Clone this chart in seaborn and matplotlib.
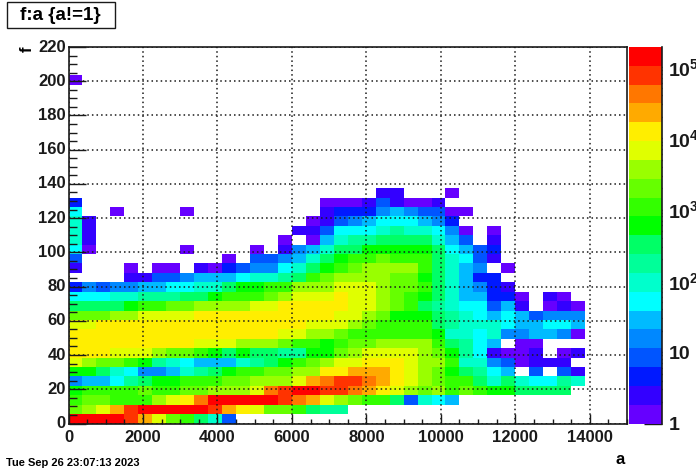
import matplotlib
matplotlib.use("Agg")
import matplotlib.pyplot as plt
import numpy as np
import seaborn as sns
from matplotlib.colors import ListedColormap, LogNorm
from matplotlib.patches import Rectangle

# estimated bin contents, one list per f bin (lowest first), 0 = empty
row_00 = [140000, 140000, 140000, 140000, 77000, 23000, 6700, 2000, 1100, 320, 95, 8]
row_01 = [2000, 3700, 6700, 23000, 77000, 140000, 140000, 140000, 140000, 140000, 77000, 23000, 12000, 6700, 2000, 2000, 1100, 320, 175, 175]
row_02 = [1100, 2000, 2000, 1100, 1100, 1100, 3700, 6700, 12000, 42000, 140000, 140000, 140000, 140000, 140000, 77000, 42000, 23000, 6700, 3700, 2000, 1100, 1100, 320, 8, 95, 52, 28]
row_03 = [590, 1100, 1100, 1100, 1100, 2000, 1100, 1100, 2000, 2000, 3700, 3700, 3700, 6700, 42000, 77000, 140000, 140000, 77000, 77000, 42000, 23000, 12000, 6700, 3700, 2000, 3700, 1100, 2000, 1100, 590, 590, 320, 320, 320, 320]
row_04 = [15, 28, 28, 52, 175, 320, 590, 590, 1100, 1100, 1100, 2000, 2000, 3700, 3700, 3700, 6700, 23000, 42000, 77000, 77000, 42000, 23000, 12000, 6700, 3700, 2000, 1100, 1100, 320, 95, 320, 95, 52, 52, 175, 95]
row_05 = [590, 590, 320, 95, 52, 15, 15, 28, 95, 175, 320, 590, 1100, 1100, 2000, 2000, 3700, 3700, 12000, 12000, 23000, 23000, 23000, 12000, 6700, 3700, 2000, 590, 320, 175, 52, 28, 0, 8, 0, 8, 2]
row_06 = [6700, 3700, 2000, 2000, 1100, 590, 175, 95, 52, 28, 28, 28, 95, 175, 320, 590, 1100, 2000, 3700, 6700, 6700, 12000, 12000, 12000, 6700, 3700, 3700, 1100, 95, 95, 15, 8, 1, 2, 2, 2]
row_07 = [12000, 12000, 12000, 6700, 6700, 6700, 3700, 2000, 2000, 1100, 590, 320, 590, 320, 320, 175, 175, 590, 590, 2000, 3700, 6700, 6700, 6700, 6700, 3700, 2000, 590, 175, 52, 2, 1, 1, 2, 0, 1, 2]
row_08 = [12000, 12000, 12000, 12000, 12000, 12000, 12000, 12000, 12000, 6700, 6700, 6700, 3700, 3700, 3700, 2000, 1100, 1100, 590, 1100, 2000, 2000, 3700, 3700, 3700, 3700, 1100, 320, 175, 52, 28, 0, 1, 1]
row_09 = [12000, 12000, 12000, 12000, 12000, 12000, 12000, 12000, 12000, 12000, 12000, 12000, 12000, 12000, 12000, 6700, 6700, 3700, 3700, 2000, 1100, 1100, 1100, 1100, 1100, 1100, 590, 95, 95, 52, 95, 15, 15, 28, 28, 15, 1]
row_10 = [6700, 6700, 12000, 12000, 12000, 12000, 12000, 12000, 12000, 12000, 12000, 12000, 12000, 12000, 12000, 12000, 12000, 6700, 6700, 6700, 3700, 2000, 1100, 1100, 1100, 1100, 320, 175, 95, 95, 95, 52, 28, 28, 52, 52, 28]
row_11 = [2000, 2000, 2000, 3700, 3700, 6700, 6700, 6700, 6700, 12000, 12000, 12000, 12000, 12000, 12000, 12000, 12000, 12000, 12000, 6700, 6700, 3700, 2000, 590, 590, 590, 320, 175, 95, 52, 28, 52, 28, 8, 15, 15, 15]
row_12 = [320, 320, 320, 320, 590, 1100, 1100, 2000, 2000, 3700, 3700, 3700, 3700, 6700, 6700, 12000, 12000, 12000, 12000, 12000, 6700, 6700, 3700, 2000, 1100, 320, 175, 95, 52, 52, 8, 28, 2, 0, 1, 2, 1]
row_13 = [52, 52, 52, 95, 95, 175, 175, 175, 320, 320, 590, 1100, 1100, 1100, 2000, 3700, 6700, 6700, 6700, 12000, 6700, 6700, 3700, 2000, 1100, 590, 320, 95, 28, 28, 5, 5, 1, 0, 2, 1]
row_14 = [5, 15, 8, 15, 15, 28, 28, 52, 52, 95, 95, 320, 590, 590, 1100, 1100, 3700, 3700, 3700, 6700, 6700, 6700, 3700, 2000, 2000, 1100, 320, 95, 28, 15, 5, 2]
row_15 = [0, 0, 0, 0, 2, 2, 8, 8, 15, 28, 28, 28, 52, 95, 95, 175, 320, 1100, 2000, 3700, 3700, 3700, 3700, 2000, 2000, 590, 320, 95, 28, 5, 5]
row_16 = [2, 0, 0, 0, 1, 0, 1, 1, 0, 2, 1, 5, 8, 15, 15, 52, 95, 320, 590, 1100, 2000, 3700, 3700, 3700, 3700, 1100, 320, 95, 28, 15, 0, 1]
row_17 = [8, 0, 0, 0, 0, 0, 0, 0, 0, 0, 0, 1, 0, 8, 8, 15, 28, 95, 320, 590, 1100, 1100, 2000, 1100, 1100, 1100, 320, 95, 52, 8, 2]
row_18 = [52, 1, 0, 0, 0, 0, 0, 0, 1, 0, 0, 0, 0, 1, 0, 2, 15, 28, 95, 320, 320, 590, 590, 590, 590, 590, 320, 52, 28, 8, 5]
row_19 = [95, 2, 0, 0, 0, 0, 0, 0, 0, 0, 0, 0, 0, 0, 0, 1, 0, 1, 28, 95, 175, 175, 320, 320, 320, 320, 95, 28, 8, 0, 2]
row_20 = [95, 2, 0, 0, 0, 0, 0, 0, 0, 0, 0, 0, 0, 0, 0, 0, 2, 2, 8, 52, 52, 52, 95, 175, 95, 95, 52, 15, 1, 0, 1]
row_21 = [95, 2, 0, 0, 0, 0, 0, 0, 0, 0, 0, 0, 0, 0, 0, 0, 0, 1, 2, 8, 15, 28, 52, 52, 52, 28, 15, 5]
row_22 = [52, 0, 0, 1, 0, 0, 0, 0, 1, 0, 0, 0, 0, 0, 0, 0, 0, 0, 2, 5, 5, 5, 15, 28, 15, 8, 8, 1, 1]
row_23 = [5, 0, 0, 0, 0, 0, 0, 0, 0, 0, 0, 0, 0, 0, 0, 0, 0, 0, 1, 1, 1, 2, 8, 2, 1, 1, 2]
row_24 = [0, 0, 0, 0, 0, 0, 0, 0, 0, 0, 0, 0, 0, 0, 0, 0, 0, 0, 0, 0, 0, 0, 2, 2, 0, 0, 0, 1]
row_36 = [1]

rows = {0: row_00, 1: row_01, 2: row_02, 3: row_03, 4: row_04, 5: row_05, 6: row_06,
        7: row_07, 8: row_08, 9: row_09, 10: row_10, 11: row_11, 12: row_12, 13: row_13,
        14: row_14, 15: row_15, 16: row_16, 17: row_17, 18: row_18, 19: row_19, 20: row_20,
        21: row_21, 22: row_22, 23: row_23, 24: row_24, 36: row_36}

n_bins = 40
x_max = 15000
y_max = 220
z_max = 190500

x_ticks = [0, 2000, 4000, 6000, 8000, 10000, 12000, 14000]
y_ticks = [0, 20, 40, 60, 80, 100, 120, 140, 160, 180, 200, 220]
bar_ticks = [1, 10, 100, 1000, 10000, 100000]
bar_labels = ["1", "10", r"$\mathbf{10^{2}}$", r"$\mathbf{10^{3}}$", r"$\mathbf{10^{4}}$", r"$\mathbf{10^{5}}$"]
palette = ["#6600FF", "#3300FF", "#0019FF", "#0055FF", "#0088FF", "#00BBFF", "#00FFFF",
           "#00FFCC", "#00FF99", "#00FF66", "#00FF00", "#33FF00", "#66FF00", "#99FF00",
           "#E0FF00", "#FFEE00", "#FFAA00", "#FF7700", "#FF3300", "#FF0000"]

sns.set_theme(style="white")
plt.rcParams["font.family"] = ["Liberation Sans", "DejaVu Sans"]
plt.rcParams["font.weight"] = "bold"
plt.rcParams["mathtext.fontset"] = "custom"
plt.rcParams["mathtext.bf"] = "Liberation Sans:bold"
plt.rcParams["text.color"] = "black"

grid = np.zeros((n_bins, n_bins))
for r, row in rows.items():
    grid[r, : len(row)] = row

W, H = 696, 472
fig = plt.figure(figsize=(W / 100, H / 100), dpi=100)
ax = fig.add_axes([68.5 / W, 1 - 423.5 / H, 558.5 / W, 376.5 / H])
cax = fig.add_axes([629 / W, 1 - 423.5 / H, 32.5 / W, 376.5 / H])

sns.heatmap(
    grid,
    mask=grid == 0,
    cmap=ListedColormap(palette),
    norm=LogNorm(vmin=1, vmax=z_max),
    ax=ax,
    cbar_ax=cax,
    square=False,
)
ax.invert_yaxis()
ax.set_facecolor("white")

x_scale = n_bins / x_max
y_scale = n_bins / y_max
ax.set_xticks([v * x_scale for v in x_ticks], labels=[str(v) for v in x_ticks], rotation=0)
ax.set_yticks([v * y_scale for v in y_ticks], labels=[str(v) for v in y_ticks], rotation=0)
ax.set_xticks(np.arange(0, x_max + 1, 500) * x_scale, minor=True)
ax.set_yticks(np.arange(0, y_max + 1, 5) * y_scale, minor=True)
ax.tick_params(axis="x", which="major", direction="in", length=7, width=1, color="k", labelsize=12, pad=5, labelcolor="k", bottom=True)
ax.tick_params(axis="x", which="minor", direction="in", length=3.6, width=1, color="k", bottom=True)
ax.tick_params(axis="y", which="major", direction="in", length=12, width=1, color="k", labelsize=12, pad=2, labelcolor="k", left=True)
ax.tick_params(axis="y", which="minor", direction="in", length=5.8, width=1, color="k", left=True)
ax.set_axisbelow(False)
ax.grid(True, which="major", color="k", linewidth=1.1, linestyle=(0, (1, 2)))
for spine in ax.spines.values():
    spine.set_visible(True)
    spine.set_color("k")
    spine.set_linewidth(1.2)

cbar = ax.collections[0].colorbar
cbar.outline.set_visible(False)
cbar.set_ticks(bar_ticks, labels=bar_labels)
minor_vals = [m * d for d in bar_ticks for m in range(2, 10) if m * d < z_max]
cbar.set_ticks(minor_vals, minor=True)
cax.tick_params(which="major", direction="in", length=13, width=1, color="k", labelsize=14, pad=5, labelcolor="k", right=True)
cax.tick_params(which="minor", direction="in", length=7, width=1, color="k", right=True)
cax.spines["right"].set_visible(True)
cax.spines["right"].set_color("k")
cax.spines["right"].set_linewidth(1.2)

fig.add_artist(Rectangle((6.5 / W, 1 - 28 / H), 109 / W, 26 / H, transform=fig.transFigure, fc="white", ec="k", lw=1))
fig.text(60.5 / W, 1 - 15 / H, "f:a {a!=1}", ha="center", va="center", fontsize=13.5)
fig.text(6 / W, 1 - 463 / H, "Tue Sep 26 23:07:13 2023", ha="left", va="center", fontsize=8)
fig.text(620 / W, 1 - 460 / H, "a", ha="center", va="center", fontsize=12)
fig.text(27 / W, 1 - 49 / H, "f", ha="center", va="center", fontsize=12, rotation=90)

fig.savefig("out.png", dpi=100)
plt.close(fig)
